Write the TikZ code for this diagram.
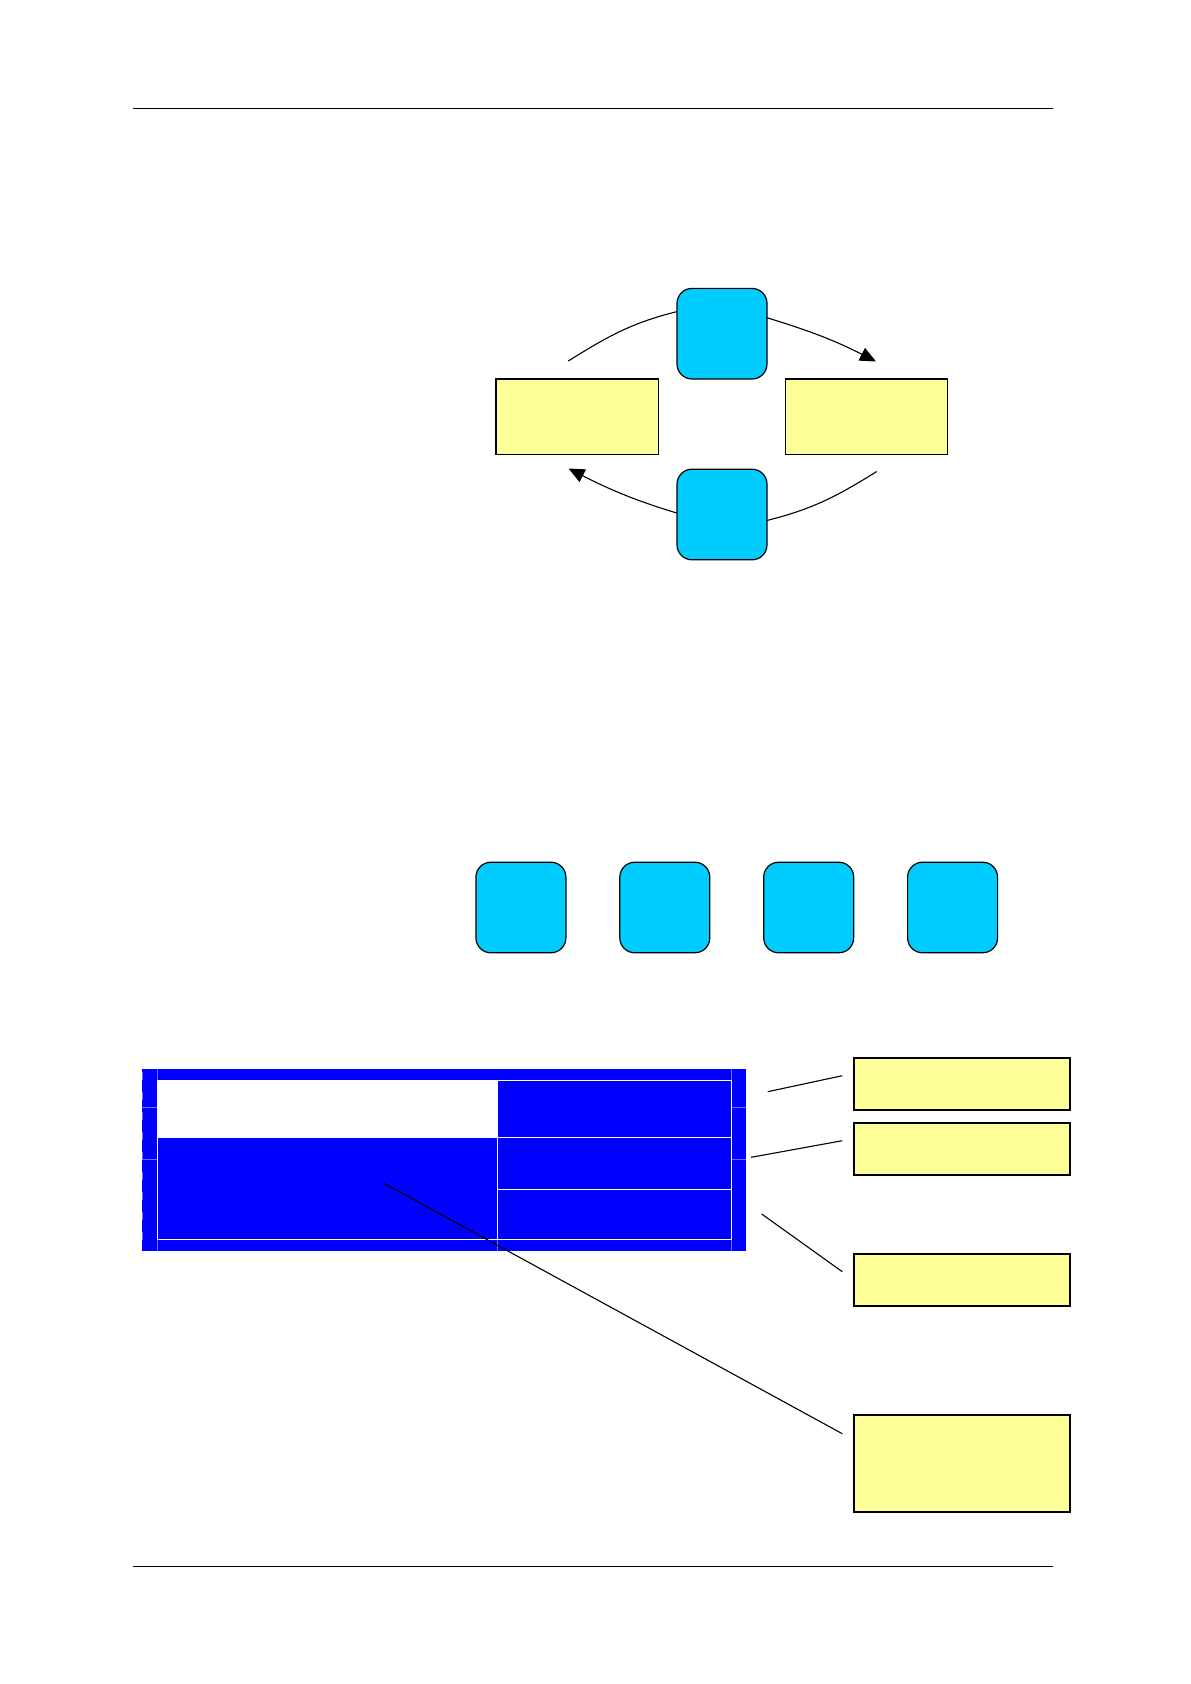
\documentclass[tikz,border=0pt]{standalone}
\usetikzlibrary{arrows.meta}
\definecolor{sky}{HTML}{00CCFF}
\definecolor{paleyellow}{HTML}{FFFF99}
\definecolor{deepblue}{HTML}{0000FF}
\definecolor{faintblue}{HTML}{6F6FFF}
\tikzset{
  roundsq/.style={draw=black, line width=0.6pt, fill=sky, rounded corners=7.5pt, inner sep=0pt, minimum width=45pt, minimum height=45.3pt},
  ybox/.style={draw=black, line width=0.6pt, fill=paleyellow, inner sep=0pt, minimum width=81.3pt, minimum height=37.7pt},
  callout/.style={draw=black, line width=0.9pt, fill=paleyellow, inner sep=0pt, minimum width=108.2pt, minimum height=26.2pt},
  conn/.style={line width=0.55pt, black},
  arrowconn/.style={conn, -{Triangle[length=8pt,width=7pt]}},
  rule/.style={line width=0.55pt, black},
  cellline/.style={line width=0.45pt, white},
  faint/.style={line width=0.35pt, faintblue}
}
\begin{document}
\begin{tikzpicture}[x=0.5pt, y=-0.5pt]
\useasboundingbox (0,0) rectangle (1190,1684);
\fill[white] (0,0) rectangle (1190,1684);

% header and footer rules
\coordinate (rtl) at (133.3,108.3);
\coordinate (rtr) at (1052.7,108.3);
\coordinate (rbl) at (133.3,1566.7);
\coordinate (rbr) at (1052.7,1566.7);
\draw[rule] (rtl) -- (rtr);
\draw[rule] (rbl) -- (rbr);

% cycle diagram
\node[roundsq] (top) at (722,333.7) {};
\node[roundsq] (bot) at (722,514.5) {};
\node[ybox] (left) at (577.2,416.7) {};
\node[ybox] (right) at (866.5,416.7) {};

\coordinate (tlS) at (568.3,361);
\coordinate (tlE) at (676.6,311.7);
\coordinate (trS) at (766.8,317.7);
\coordinate (trE) at (876,361.5);
\coordinate (brS) at (876.7,471.5);
\coordinate (brE) at (766.8,520.5);
\coordinate (blS) at (676.6,513);
\coordinate (blE) at (568.5,468.5);

\draw[conn] (tlS) to[out=32, in=194] (tlE);
\draw[arrowconn] (trS) to[out=-17, in=153] (trE);
\draw[conn] (brS) to[out=212, in=14] (brE);
\draw[arrowconn] (blS) to[out=163, in=-27] (blE);

% row of four squares
\node[roundsq] (s1) at (520.9,907.5) {};
\node[roundsq] (s2) at (664.8,907.5) {};
\node[roundsq] (s3) at (808.7,907.5) {};
\node[roundsq] (s4) at (952.6,907.5) {};

% table
\fill[deepblue] (141.5,1069) rectangle (745.7,1250.7);
\fill[white] (157.3,1080) rectangle (497.3,1137.5);
\draw[faint] (141.5,1107.7) -- (157.3,1107.7);
\draw[faint] (141.5,1159.7) -- (157.3,1159.7);
\draw[faint] (731.4,1107.7) -- (745.7,1107.7);
\draw[faint] (731.4,1159.7) -- (745.7,1159.7);
\draw[faint] (157.3,1069) -- (157.3,1080);
\draw[faint] (157.3,1239.3) -- (157.3,1250.7);
\draw[faint] (497.3,1239.3) -- (497.3,1250.7);
\draw[faint] (731.4,1069) -- (731.4,1080);
\draw[faint] (731.4,1239.3) -- (731.4,1250.7);
\draw[faint, dash pattern=on 4pt off 6pt] (142.6,1072) -- (142.6,1250);
\draw[cellline] (157.3,1080) rectangle (731.4,1239.3);
\draw[cellline] (497.3,1080) -- (497.3,1239.3);
\draw[cellline] (157.3,1137.5) -- (731.4,1137.5);
\draw[cellline] (497.3,1189.3) -- (731.4,1189.3);

% callout boxes
\node[callout] (c1) at (961.9,1083.9) {};
\node[callout] (c2) at (961.9,1148.9) {};
\node[callout] (c3) at (961.9,1279.9) {};
\node[callout, minimum height=48.2pt] (c4) at (961.9,1463.5) {};

\coordinate (l1S) at (767.7,1091.7);
\coordinate (l1E) at (842.3,1075.7);
\coordinate (l2S) at (751,1157.3);
\coordinate (l2E) at (842.3,1140.7);
\coordinate (l3S) at (761.7,1214);
\coordinate (l3E) at (842.3,1271.7);
\coordinate (l4S) at (384,1183.3);
\coordinate (l4E) at (842.3,1433.7);
\draw[conn] (l1S) -- (l1E);
\draw[conn] (l2S) -- (l2E);
\draw[conn] (l3S) -- (l3E);
\draw[conn] (l4S) -- (l4E);
\end{tikzpicture}
\end{document}
